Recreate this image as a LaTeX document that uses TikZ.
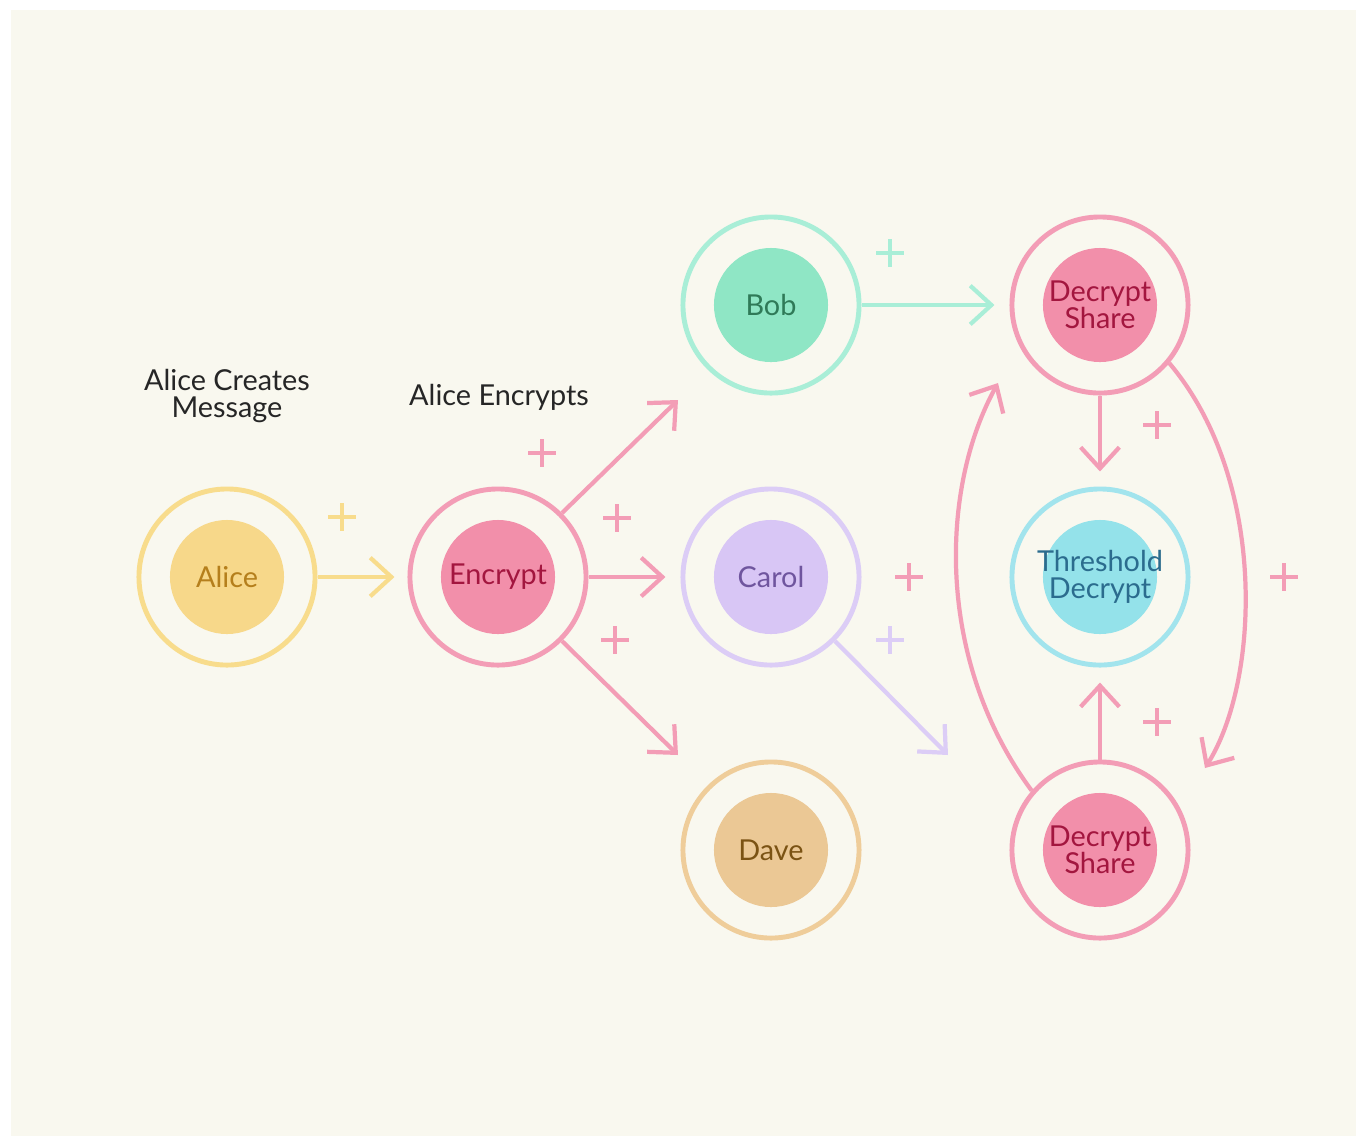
\documentclass[tikz,border=0pt]{standalone}
\usepackage{fontspec}
\setmainfont{Lato}
\usetikzlibrary{arrows.meta,positioning}

\definecolor{bgcream}{HTML}{F9F8EF}
\definecolor{yelring}{HTML}{F8DC8C}
\definecolor{yelfill}{HTML}{F7D88A}
\definecolor{yeltext}{HTML}{B57F1C}
\definecolor{pinkring}{HTML}{F39DB6}
\definecolor{pinkfill}{HTML}{F28FAA}
\definecolor{pinktext}{HTML}{A3163F}
\definecolor{mintring}{HTML}{A9EED7}
\definecolor{mintfill}{HTML}{8FE6C5}
\definecolor{minttext}{HTML}{2F7A58}
\definecolor{lavring}{HTML}{DCCDF6}
\definecolor{lavfill}{HTML}{D8C6F5}
\definecolor{lavtext}{HTML}{6F559E}
\definecolor{sandring}{HTML}{EFCD9A}
\definecolor{sandfill}{HTML}{EBC895}
\definecolor{sandtext}{HTML}{7B5314}
\definecolor{cyanring}{HTML}{A2E4ED}
\definecolor{cyanfill}{HTML}{94E2EA}
\definecolor{cyantext}{HTML}{2B6C8E}

\begin{document}
\begin{tikzpicture}[x=0.01cm,y=-0.01cm,
	ring/.style={circle,draw=#1,line width=1.4pt,minimum size=1.76cm,inner sep=0pt},
	core/.style={circle,fill=#1,minimum size=1.14cm,inner sep=0pt},
	txt/.style={align=center,inner sep=0pt,text=#1,font=\fontsize{8.2}{7.8}\selectfont},
	arr/.style={draw=#1,line width=1.2pt,-{Straight Barb[length=6pt,width=11pt]}},
	stage/.style={align=center,text=black!85,font=\fontsize{8.2}{7.8}\selectfont},
	pics/plusmark/.style={code={\draw[#1,line width=1pt] (-14,0) -- (14,0) (0,-14) -- (0,14);}}]
	\useasboundingbox (0,0) rectangle (1362,1138);
	\fill[white] (0,0) rectangle (1362,1138);
	\fill[bgcream] (11,10) rectangle (1356,1136);

	% rings
	\node[ring=yelring] (alice) at (227,577) {};
	\node[ring=pinkring] (encrypt) at (498,577) {};
	\node[ring=mintring] (bob) at (771,305) {};
	\node[ring=lavring] (carol) at (771,577) {};
	\node[ring=sandring] (dave) at (771,850) {};
	\node[ring=pinkring] (dsharetop) at (1100,305) {};
	\node[ring=cyanring] (thresh) at (1100,577) {};
	\node[ring=pinkring] (dsharebot) at (1100,850) {};

	% filled centres
	\node[core=yelfill,label={[txt=yeltext]center:Alice}] (alice-in) at (alice) {};
	\node[core=pinkfill,label={[txt=pinktext]center:Encrypt}] (encrypt-in) at (encrypt) {};
	\node[core=mintfill,label={[txt=minttext]center:Bob}] (bob-in) at (bob) {};
	\node[core=lavfill,label={[txt=lavtext]center:Carol}] (carol-in) at (carol) {};
	\node[core=sandfill,label={[txt=sandtext]center:Dave}] (dave-in) at (dave) {};
	\node[core=pinkfill,label={[txt=pinktext]center:Decrypt\\Share}] (dsharetop-in) at (dsharetop) {};
	\node[core=cyanfill,label={[txt=cyantext]center:Threshold\\Decrypt}] (thresh-in) at (thresh) {};
	\node[core=pinkfill,label={[txt=pinktext]center:Decrypt\\Share}] (dsharebot-in) at (dsharebot) {};

	\node[stage] (lblcreate) at (227,396) {Alice Creates\\Message};
	\node[stage] (lblencrypt) at (499,397) {Alice Encrypts};

	\coordinate (tobob) at (678,400);
	\coordinate (todave) at (678,755);
	\coordinate (fromcarol) at (948,755);
	\coordinate (lefttip) at (998,383);
	\coordinate (righttip) at (1205,768);

	\draw[arr=yelring,shorten >=0.13cm] (alice) -- (encrypt);
	\draw[arr=pinkring] (encrypt.45) -- (tobob);
	\draw[arr=pinkring,shorten >=0.15cm] (encrypt) -- (carol);
	\draw[arr=pinkring] (encrypt.-45) -- (todave);
	\draw[arr=mintring,shorten >=0.15cm] (bob) -- (dsharetop);
	\draw[arr=lavring] (carol.-45) -- (fromcarol);
	\draw[arr=pinkring,shorten >=0.15cm] (dsharetop) -- (thresh);
	\draw[arr=pinkring,shorten >=0.15cm] (dsharebot) -- (thresh);
	\draw[arr=pinkring] (dsharebot.139) .. controls (935,660) and (940,488) .. (lefttip);
	\draw[arr=pinkring] (dsharetop.-40) .. controls (1268,480) and (1260,681) .. (righttip);

	\foreach \px/\py/\pc in {342/517/yelring,542/453/pinkring,617/518/pinkring,615/640/pinkring,
		890/253/mintring,909/577/pinkring,890/640/lavring,1157/425/pinkring,1284/577/pinkring,1157/722/pinkring}
		\pic at (\px,\py) {plusmark=\pc};
\end{tikzpicture}
\end{document}
